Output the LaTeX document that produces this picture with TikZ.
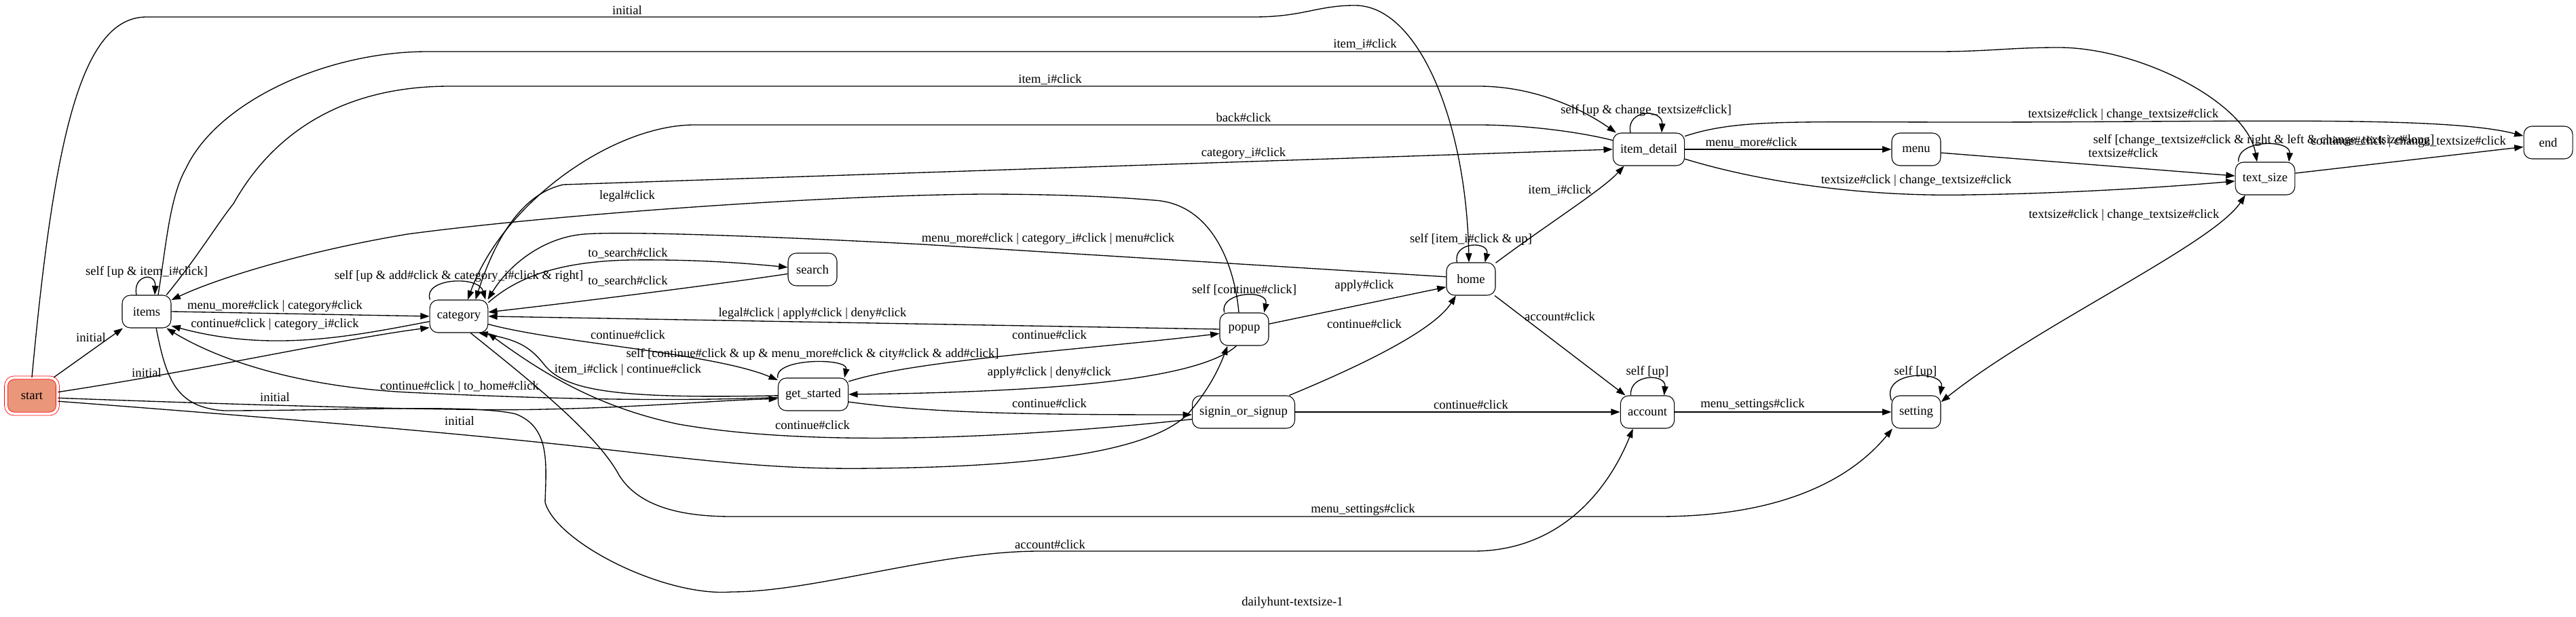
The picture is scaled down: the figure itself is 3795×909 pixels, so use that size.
\documentclass[tikz,border=0pt]{standalone}
\usepackage{fontspec}
\setmainfont{Liberation Serif}
\usetikzlibrary{arrows.meta,calc}
\definecolor{startfill}{RGB}{233,150,122}

\tikzset{
  stbox/.style={draw, rounded corners=9pt, line width=0.8pt, minimum width=54pt,
    minimum height=36pt, inner xsep=8pt, inner ysep=0pt, font=\fontsize{14}{16}\selectfont},
  initstate/.style={stbox, draw=red, fill=startfill, double=white, double distance=3pt,
    line width=0.6pt, minimum width=57pt, minimum height=40pt},
  lbl/.style={inner sep=1pt, font=\fontsize{14}{16}\selectfont},
  tr/.style={-{Triangle[length=10pt,width=7pt]}, line width=1pt},
  trboth/.style={{Triangle[length=10pt,width=7pt]}-{Triangle[length=10pt,width=7pt]}, line width=1pt},
}

\begin{document}
\begin{tikzpicture}[x=0.75pt,y=-0.75pt]
\useasboundingbox (0,0) rectangle (3795,909);

% states
\node[initstate] (start) at (47,583) {start};
\node[stbox] (items) at (216,459) {items};
\node[stbox] (category) at (676,466) {category};
\node[stbox] (search) at (1197,397) {search};
\node[stbox] (getstarted) at (1198,581) {get\_started};
\node[stbox] (popup) at (1833,485) {popup};
\node[stbox] (signin) at (1832,607) {signin\_or\_signup};
\node[stbox] (home) at (2167,411) {home};
\node[stbox] (account) at (2427,607) {account};
\node[stbox] (setting) at (2823,607) {setting};
\node[stbox] (itemdetail) at (2429,220) {item\_detail};
\node[stbox] (menu) at (2823,220) {menu};
\node[stbox] (textsize) at (3337,263) {text\_size};
\node[stbox] (endstate) at (3754,210) {end};

% initial transitions
\draw[tr] (start.40) -- (items.215) node[lbl] (lStartItems) at (134,497) {initial};
\draw[tr] (start.8) .. controls (300,545) and (500,500) .. (category.201)
  node[lbl] (lStartCat) at (216,549) {initial};
\draw[tr] (start.-5) .. controls (400,598) and (700,606) .. (800,603)
  .. controls (950,600) and (1050,590) .. (getstarted.187)
  node[lbl] (lStartGs) at (405,585) {initial};
\draw[tr] (start.-12) .. controls (400,615) and (700,640) .. (900,663)
  .. controls (1050,680) and (1150,692) .. (1283,690)
  .. controls (1500,688) and (1690,670) .. (1750,610)
  .. controls (1780,575) and (1795,545) .. (popup.225)
  node[lbl] (lStartPopup) at (677,620) {initial};
\draw[tr] (start.north) .. controls (80,200) and (120,25) .. (216,25) -- (1847,25)
  .. controls (1920,25) and (1940,8) .. (1996,8)
  .. controls (2090,8) and (2160,180) .. ($(home.north)+(-3,0)$)
  node[lbl] (lStartHome) at (924,15) {initial};

% items
\draw[tr] ($(items.north)+(-15,0)$) .. controls (195,405) and (230,400) .. ($(items.north)+(12,0)$)
  node[lbl] (lItemsSelf) at (216,401) {self [up \& item\_i\#click]};
\draw[tr] (items.east) -- (category.west)
  node[lbl] (lItemsCat) at (405,451) {menu\_more\#click | category\#click};
\draw[tr] ($(items.north)+(17,0)$) .. controls (245,360) and (250,290) .. (274,248)
  .. controls (320,150) and (480,76) .. (630,76) -- (2853,76)
  .. controls (2930,76) and (2960,70) .. (3033,70)
  .. controls (3150,70) and (3310,150) .. ($(textsize.north)+(-12,0)$)
  node[lbl] (lItemsTs) at (2011,65) {item\_i\#click};
\draw[tr] (items.40) .. controls (290,380) and (320,330) .. (344,300)
  .. controls (400,200) and (500,127) .. (663,127) -- (2178,127)
  .. controls (2260,127) and (2330,160) .. (itemdetail.153)
  node[lbl] (lItemsId) at (1547,117) {item\_i\#click};
\draw[tr] (items.-60) .. controls (245,560) and (260,600) .. (330,605)
  .. controls (500,605) and (700,595) .. (760,610)
  .. controls (810,630) and (805,680) .. (803,740)
  .. controls (820,800) and (980,880) .. (1078,872)
  .. controls (1200,872) and (1380,812) .. (1532,812) -- (2170,812)
  .. controls (2300,812) and (2370,720) .. (account.229)
  node[lbl] (lItemsAcc) at (1547,802) {account\#click};

% category
\draw[tr] (category.150) .. controls (622,410) and (705,405) .. (category.32)
  node[lbl] (lCatSelf) at (676,407) {self [up \& add\#click \& category\_i\#click \& right]};
\draw[tr] (category.190) .. controls (520,495) and (400,520) .. (items.-30)
  node[lbl] (lCatItems) at (405,478) {continue\#click | category\_i\#click};
\draw[tr] (category.25) .. controls (760,410) and (820,385) .. (930,383)
  .. controls (1030,382) and (1100,388) .. (search.175)
  node[lbl] (lToSearch) at (925,373) {to\_search\#click};
\draw[tr] (search.190) .. controls (1050,420) and (850,445) .. (category.8)
  node[lbl] (lFromSearch) at (925,414) {to\_search\#click};
\draw[tr] (category.-15) .. controls (820,505) and (1050,520) .. (getstarted.158)
  node[lbl] (lCatGs) at (925,493) {continue\#click};
\draw[trboth] (category.45) .. controls (730,350) and (770,285) .. (830,272) -- (itemdetail.west)
  node[lbl] (lCatId) at (1832,226) {category\_i\#click};
\draw[tr] (category.-55) .. controls (780,560) and (880,640) .. (912,700)
  .. controls (940,745) and (1000,761) .. (1078,761) -- (2443,761)
  .. controls (2650,761) and (2740,690) .. (setting.215)
  node[lbl] (lCatSetting) at (2008,751) {menu\_settings\#click};

% get_started
\draw[tr] (getstarted.155) .. controls (1140,527) and (1250,527) .. (getstarted.28)
  node[lbl] (lGsSelf) at (1197,522) {self [continue\#click \& up \& menu\_more\#click \& city\#click \& add\#click]};
\draw[tr] (getstarted.182) .. controls (900,588) and (830,575) .. (800,535)
  .. controls (780,510) and (760,500) .. (category.-40)
  node[lbl] (lGsCat) at (925,545) {item\_i\#click | continue\#click};
\draw[tr] (getstarted.185) .. controls (950,593) and (750,585) .. (600,578)
  .. controls (450,570) and (330,535) .. (items.-40)
  node[lbl] (lGsItems) at (677,570) {continue\#click | to\_home\#click};
\draw[tr] (getstarted.20) .. controls (1350,530) and (1600,515) .. (popup.190)
  node[lbl] (lGsPopup) at (1546,493) {continue\#click};
\draw[tr] (getstarted.-12) .. controls (1380,610) and (1550,611) .. (signin.183)
  node[lbl] (lGsSignin) at (1546,594) {continue\#click};

% popup
\draw[tr] (popup.140) .. controls (1795,430) and (1870,425) .. (popup.40)
  node[lbl] (lPopupSelf) at (1833,427) {self [continue\#click]};
\draw[tr] (popup.west) -- (category.east)
  node[lbl] (lPopupCat) at (1197,462) {legal\#click | apply\#click | deny\#click};
\draw[tr] (popup.245) .. controls (1760,565) and (1500,578) .. (getstarted.east)
  node[lbl] (lPopupGs) at (1546,549) {apply\#click | deny\#click};
\draw[tr] ($(popup.north)+(-8,0)$) .. controls (1820,400) and (1790,300) .. (1700,295)
  .. controls (1620,288) and (1520,286) .. (1449,286)
  .. controls (1200,288) and (800,318) .. (600,345)
  .. controls (450,370) and (320,410) .. (items.25)
  node[lbl] (lLegal) at (924,289) {legal\#click};
\draw[tr] (popup.12) -- (home.198) node[lbl] (lPopupHome) at (2010,421) {apply\#click};

% signin_or_signup
\draw[tr] (signin.188) .. controls (1500,645) and (1200,660) .. (1000,625)
  .. controls (880,600) and (800,550) .. (category.-30)
  node[lbl] (lSigninCat) at (1197,626) {continue\#click};
\draw[tr] (signin.20) .. controls (1990,545) and (2110,490) .. (home.228)
  node[lbl] (lSigninHome) at (2010,477) {continue\#click};
\draw[tr] (signin.east) -- (account.west) node[lbl] (lSigninAcc) at (2167,596) {continue\#click};

% home
\draw[tr] (home.130) .. controls (2140,355) and (2195,355) .. (home.50)
  node[lbl] (lHomeSelf) at (2167,353) {self [item\_i\#click \& up]};
\draw[tr] (home.175) -- (1359,360) .. controls (1150,349) and (920,340) .. (860,345)
  .. controls (800,350) and (750,390) .. (category.30)
  node[lbl] (lHomeCat) at (1544,352) {menu\_more\#click | category\_i\#click | menu\#click};
\draw[tr] (home.33) .. controls (2280,330) and (2360,280) .. (itemdetail.214)
  node[lbl] (lHomeId) at (2298,280) {item\_i\#click};
\draw[tr] (home.-35) -- (account.143) node[lbl] (lHomeAcc) at (2298,466) {account\#click};

% account, setting
\draw[tr] (account.135) .. controls (2400,550) and (2455,550) .. (account.45)
  node[lbl] (lAccSelf) at (2427,548) {self [up]};
\draw[tr] (account.east) -- (setting.west) node[lbl] (lAccSetting) at (2582,596) {menu\_settings\#click};
\draw[tr] (setting.155) .. controls (2770,545) and (2865,545) .. (setting.35)
  node[lbl] (lSettingSelf) at (2822,548) {self [up]};

% item_detail
\draw[tr] ($(itemdetail.north)+(-27,0)$) .. controls (2395,160) and (2450,160) .. ($(itemdetail.north)+(19,0)$)
  node[lbl] (lIdSelf) at (2425,163) {self [up \& change\_textsize\#click]};
\draw[tr] (itemdetail.166) .. controls (2330,195) and (2250,184) .. (2178,184) -- (1020,184)
  .. controls (900,186) and (740,300) .. (category.62)
  node[lbl] (lBack) at (1832,173) {back\#click};
\draw[tr] (itemdetail.east) -- (menu.west) node[lbl] (lIdMenu) at (2580,210) {menu\_more\#click};
\draw[tr] (itemdetail.20) .. controls (2560,175) and (2640,180) .. (2900,180)
  .. controls (3300,180) and (3600,170) .. (endstate.165)
  node[lbl] (lIdEnd) at (3128,169) {textsize\#click | change\_textsize\#click};
\draw[tr] (itemdetail.-15) .. controls (2600,270) and (2750,290) .. (2900,287)
  .. controls (3050,285) and (3200,275) .. (textsize.185)
  node[lbl] (lIdTs) at (2823,266) {textsize\#click | change\_textsize\#click};

% menu, text_size
\draw[tr] (menu.-8) -- (textsize.175) node[lbl] (lMenuTs) at (3128,225) {textsize\#click};
\draw[tr] (textsize.148) .. controls (3295,205) and (3375,205) .. (textsize.35)
  node[lbl] (lTsSelf) at (3335,207) {self [change\_textsize\#click \& right \& left \& change\_textsize\#long]};
\draw[tr] (textsize.10) -- (endstate.190)
  node[lbl] (lTsEnd) at (3548,209) {continue\#click | change\_textsize\#click};
\draw[trboth] (textsize.220) .. controls (3260,360) and (3000,480) .. (setting.22)
  node[lbl] (lTsSetting) at (3129,317) {textsize\#click | change\_textsize\#click};

\node[lbl] (caption) at (1904,888) {dailyhunt-textsize-1};
\end{tikzpicture}
\end{document}
